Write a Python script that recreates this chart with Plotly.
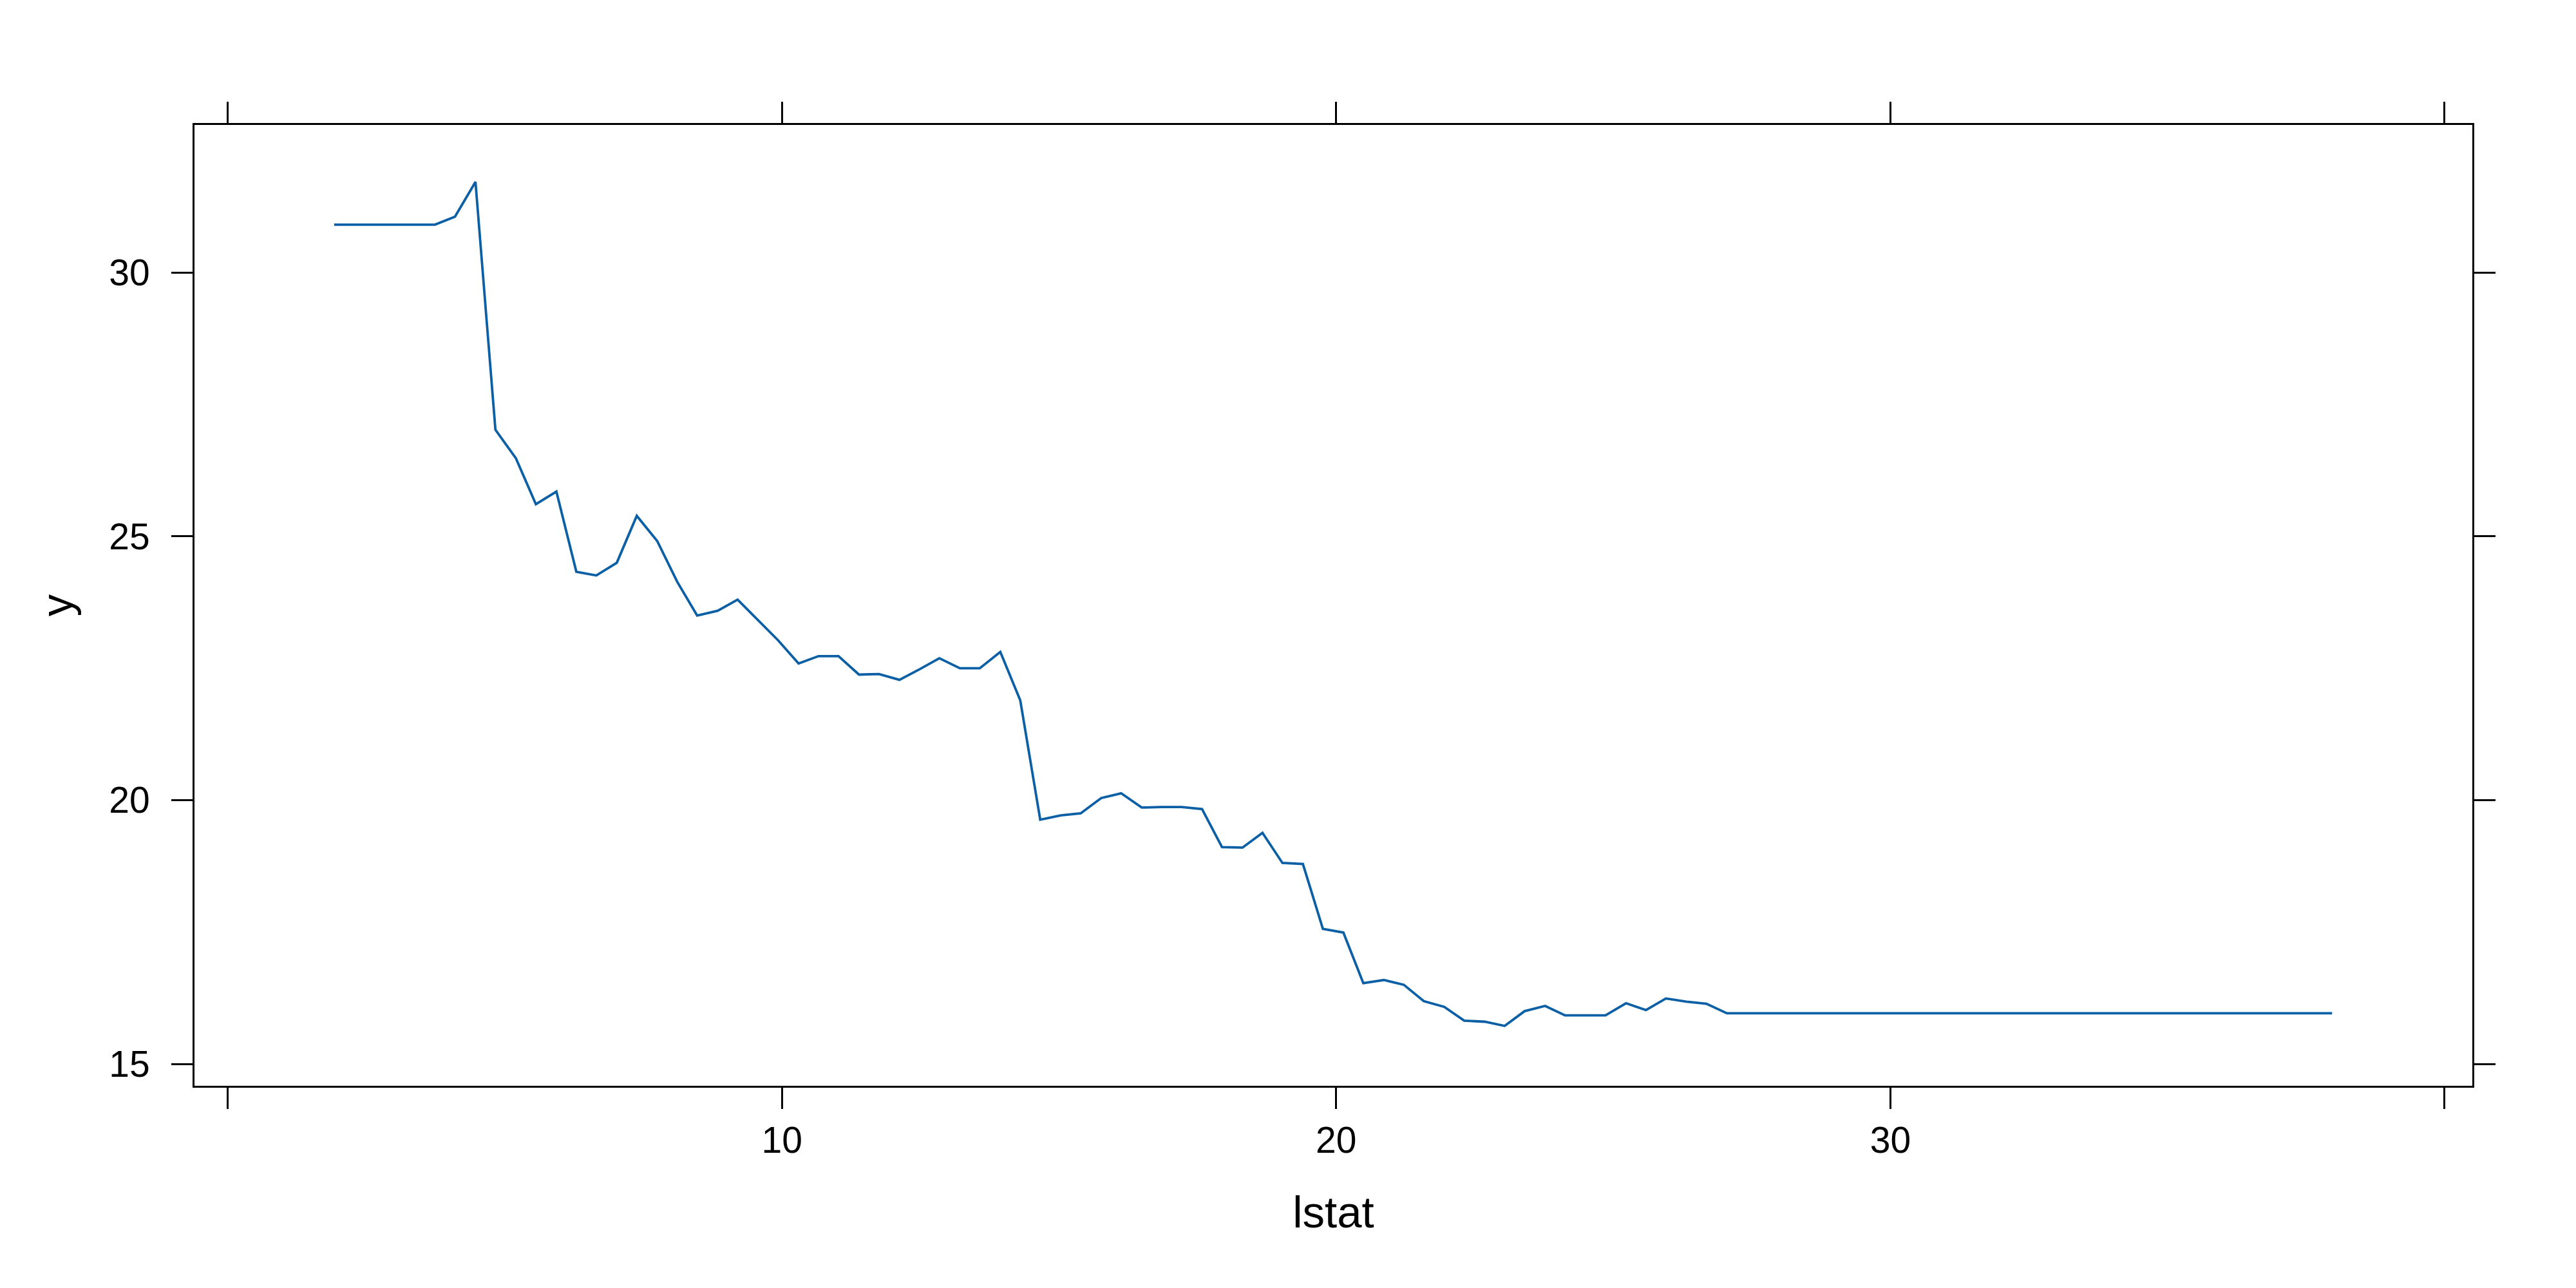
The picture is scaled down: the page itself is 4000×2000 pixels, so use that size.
import plotly.graph_objects as go

# partial dependence of y on lstat (grid points)
lstat = [1.92, 3.74, 4.10, 4.47, 4.83, 5.20, 5.56, 5.93, 6.29, 6.65,
         7.02, 7.38, 7.75, 8.11, 8.47, 8.84, 9.20, 9.57, 9.93, 10.30,
         10.66, 11.02, 11.39, 11.75, 12.12, 12.48, 12.84, 13.21, 13.57, 13.94,
         14.30, 14.66, 15.03, 15.39, 15.76, 16.12, 16.49, 16.85, 17.21, 17.58,
         17.94, 18.31, 18.67, 19.03, 19.40, 19.76, 20.13, 20.49, 20.86, 21.22,
         21.58, 21.95, 22.31, 22.68, 23.04, 23.40, 23.77, 24.13, 24.50, 24.86,
         25.23, 25.59, 25.95, 26.32, 26.68, 27.05, 37.97]
yhat = [30.91, 30.91, 31.06, 31.72, 27.02, 26.48, 25.61, 25.85, 24.33, 24.26,
        24.50, 25.39, 24.91, 24.14, 23.50, 23.59, 23.80, 23.41, 23.03, 22.59,
        22.73, 22.73, 22.38, 22.39, 22.28, 22.48, 22.69, 22.50, 22.50, 22.81,
        21.89, 19.63, 19.71, 19.75, 20.04, 20.13, 19.86, 19.87, 19.87, 19.83,
        19.11, 19.10, 19.38, 18.81, 18.79, 17.56, 17.49, 16.53, 16.59, 16.50,
        16.19, 16.08, 15.82, 15.80, 15.72, 16.00, 16.10, 15.92, 15.92, 15.92,
        16.15, 16.02, 16.24, 16.18, 16.14, 15.96, 15.96]

x_ticks = [0, 10, 20, 30, 40]
x_ticktext = ["", "10", "20", "30", ""]
y_ticks = [15, 20, 25, 30]

fig = go.Figure()
fig.add_trace(go.Scatter(
    x=lstat,
    y=yhat,
    mode='lines',
    line=dict(color='#0B5FA5', width=3.8),
    showlegend=False,
))

axis_style = dict(
    showgrid=False,
    zeroline=False,
    showline=True,
    linecolor='black',
    linewidth=3,
    mirror='allticks',
    ticks='outside',
    ticklen=33,
    tickwidth=3,
    tickcolor='black',
    tickfont=dict(size=57, color='black'),
    automargin=False,
)

# page body has an 8px margin, so margins are shifted to compensate
fig.update_layout(
    width=4000,
    height=2000,
    margin=dict(l=294, r=169, t=186, b=322),
    paper_bgcolor='white',
    plot_bgcolor='white',
    font=dict(family='Liberation Sans, Arial, sans-serif', color='black'),
    xaxis=dict(range=[-0.60, 40.50], tickvals=x_ticks, ticktext=x_ticktext,
               ticklabelstandoff=0,
               title=dict(text='lstat', font=dict(size=69), standoff=57),
               **axis_style),
    yaxis=dict(range=[14.585, 32.80], tickvals=y_ticks,
               ticklabelstandoff=22,
               title=dict(text='y', font=dict(size=69), standoff=35),
               **axis_style),
)

fig.write_html("out.html")
